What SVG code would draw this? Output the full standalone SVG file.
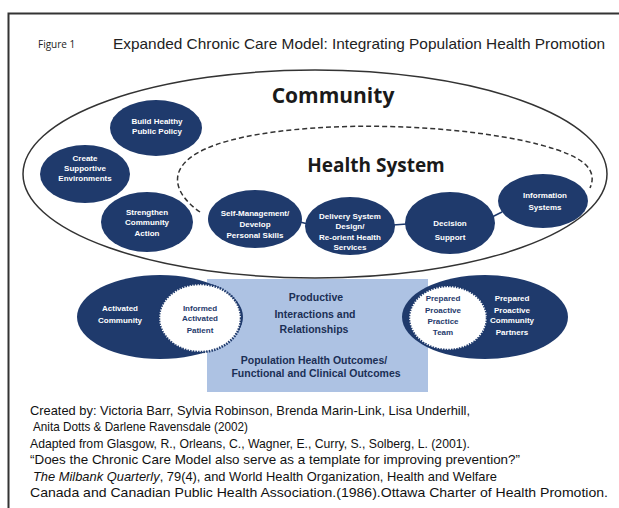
<svg xmlns="http://www.w3.org/2000/svg" width="619" height="508" viewBox="0 0 619 508">
<defs>
<style>
.nav{fill:#1f3a6c;}
.wt{fill:#ffffff;font-family:"Liberation Sans",Arial,sans-serif;font-weight:bold;font-size:8px;text-anchor:middle;}
.dt{fill:#1f3a6c;font-family:"Liberation Sans",Arial,sans-serif;font-weight:bold;font-size:8px;text-anchor:middle;}
.bt{fill:#1b2f55;font-family:"Liberation Sans",Arial,sans-serif;font-weight:bold;font-size:10.5px;text-anchor:middle;}
.ref{fill:#111;font-family:"Liberation Sans",Arial,sans-serif;font-size:13.5px;}
.hd{fill:#1a1a1a;font-family:"Open Sans","Liberation Sans",sans-serif;font-weight:bold;text-anchor:middle;}
.jag{fill:#ffffff;stroke:#1f3a6c;stroke-width:2.5;stroke-dasharray:1.5 1.2;}
.conn{stroke:#1f3a6c;stroke-width:1.5;fill:none;}
</style>
<marker id="ah" viewBox="0 0 10 10" refX="9" refY="5" markerWidth="5" markerHeight="5" orient="auto-start-reverse">
<path d="M0,0 L10,5 L0,10 L3,5 Z" fill="#1a2440"/>
</marker>
</defs>
<rect width="619" height="508" fill="#ffffff"/>
<path d="M8.5,508 L8.5,13.5 L619,13.5" fill="none" stroke="#333" stroke-width="2"/>
<text x="38" y="48" font-family="'Open Sans','Liberation Sans',sans-serif" font-size="10" fill="#222">Figure 1</text>
<text x="113" y="49" font-family="'Liberation Sans',Arial,sans-serif" font-size="15" fill="#222" textLength="492" lengthAdjust="spacingAndGlyphs">Expanded Chronic Care Model: Integrating Population Health Promotion</text>

<g id="community">
<ellipse cx="315" cy="174" rx="292" ry="104" fill="none" stroke="#333" stroke-width="1.5"/>
<text class="hd" x="333" y="103" font-size="21">Community</text>
</g>
<g id="health-system">
<path d="M200,212 C175,195 160,165 215,145 C280,122 420,120 520,140 C575,152 600,165 590,188" fill="none" stroke="#333" stroke-width="1.5" stroke-dasharray="5 3"/>
<text class="hd" x="376" y="172" font-size="19">Health System</text>
</g>

<g id="connectors">
<line class="conn" x1="300" y1="222" x2="308" y2="224"/>
<line class="conn" x1="393" y1="225" x2="407" y2="224"/>
<line class="conn" x1="492" y1="217" x2="502" y2="212"/>
<line x1="252" y1="306" x2="386" y2="306" stroke="#1a2440" stroke-width="2" marker-start="url(#ah)" marker-end="url(#ah)"/>
</g>

<g id="build-healthy"><ellipse class="nav" cx="156" cy="128" rx="46" ry="28"/>
<text class="wt" x="157" y="124">Build Healthy</text><text class="wt" x="157" y="134">Public Policy</text></g>
<g id="create-supportive"><ellipse class="nav" cx="85" cy="174" rx="45" ry="29"/>
<text class="wt" x="85" y="161">Create</text><text class="wt" x="85" y="171">Supportive</text><text class="wt" x="85" y="181">Environments</text></g>
<g id="strengthen"><ellipse class="nav" cx="147" cy="222" rx="46" ry="30"/>
<text class="wt" x="147" y="215">Strengthen</text><text class="wt" x="147" y="225">Community</text><text class="wt" x="147" y="236">Action</text></g>
<g id="self-management"><ellipse class="nav" cx="255" cy="219" rx="47" ry="29"/>
<text class="wt" x="255" y="216">Self-Management/</text><text class="wt" x="255" y="227">Develop</text><text class="wt" x="255" y="238">Personal Skills</text></g>
<g id="delivery-system"><ellipse class="nav" cx="350" cy="226" rx="45" ry="29"/>
<text class="wt" x="350" y="219">Delivery System</text><text class="wt" x="350" y="229">Design/</text><text class="wt" x="350" y="240">Re-orient Health</text><text class="wt" x="350" y="250">Services</text></g>
<g id="decision-support"><ellipse class="nav" cx="450" cy="223" rx="45" ry="31"/>
<text class="wt" x="450" y="226">Decision</text><text class="wt" x="450" y="240">Support</text></g>
<g id="information-systems"><ellipse class="nav" cx="543" cy="201" rx="45" ry="27"/>
<text class="wt" x="545" y="198">Information</text><text class="wt" x="545" y="210">Systems</text></g>

<g id="outcomes-box">
<rect x="207" y="279" width="221" height="113" fill="#adc2e3"/>
<text class="bt" x="316" y="301">Productive</text>
<text class="bt" x="315" y="318">Interactions and</text>
<text class="bt" x="314" y="333">Relationships</text>
<text class="bt" x="314" y="364" font-size="11">Population Health Outcomes/</text>
<text class="bt" x="316" y="377" font-size="11">Functional and Clinical Outcomes</text>
</g>

<g id="activated-community"><ellipse class="nav" cx="160" cy="317" rx="83" ry="42"/>
<text class="wt" x="120" y="311">Activated</text><text class="wt" x="120" y="323">Community</text></g>
<g id="informed-patient"><ellipse class="jag" cx="200" cy="318" rx="41" ry="34"/>
<text class="dt" x="200" y="311">Informed</text><text class="dt" x="200" y="321">Activated</text><text class="dt" x="200" y="333">Patient</text></g>
<g id="prepared-partners"><ellipse class="nav" cx="485" cy="317" rx="83" ry="42"/>
<text class="wt" x="512" y="301">Prepared</text><text class="wt" x="512" y="313">Proactive</text><text class="wt" x="512" y="323">Community</text><text class="wt" x="512" y="335">Partners</text></g>
<g id="prepared-team"><ellipse class="jag" cx="448" cy="318" rx="39" ry="32"/>
<text class="dt" x="443" y="301">Prepared</text><text class="dt" x="443" y="313">Proactive</text><text class="dt" x="443" y="324">Practice</text><text class="dt" x="443" y="335">Team</text></g>

<g id="credits">
<text class="ref" x="30" y="415" textLength="440" lengthAdjust="spacingAndGlyphs">Created by: Victoria Barr, Sylvia Robinson, Brenda Marin-Link, Lisa Underhill,</text>
<text class="ref" x="33" y="431" textLength="215" lengthAdjust="spacingAndGlyphs">Anita Dotts &amp; Darlene Ravensdale (2002)</text>
<text class="ref" x="30" y="448" textLength="440" lengthAdjust="spacingAndGlyphs">Adapted from Glasgow, R., Orleans, C., Wagner, E., Curry, S., Solberg, L. (2001).</text>
<text class="ref" x="30" y="464" textLength="490" lengthAdjust="spacingAndGlyphs">“Does the Chronic Care Model also serve as a template for improving prevention?”</text>
<text class="ref" x="33" y="481" textLength="464" lengthAdjust="spacingAndGlyphs"><tspan font-style="italic">The Milbank Quarterly</tspan>, 79(4), and World Health Organization, Health and Welfare</text>
<text class="ref" x="30" y="497" textLength="578" lengthAdjust="spacingAndGlyphs">Canada and Canadian Public Health Association.(1986).Ottawa Charter of Health Promotion.</text>
</g>
</svg>
